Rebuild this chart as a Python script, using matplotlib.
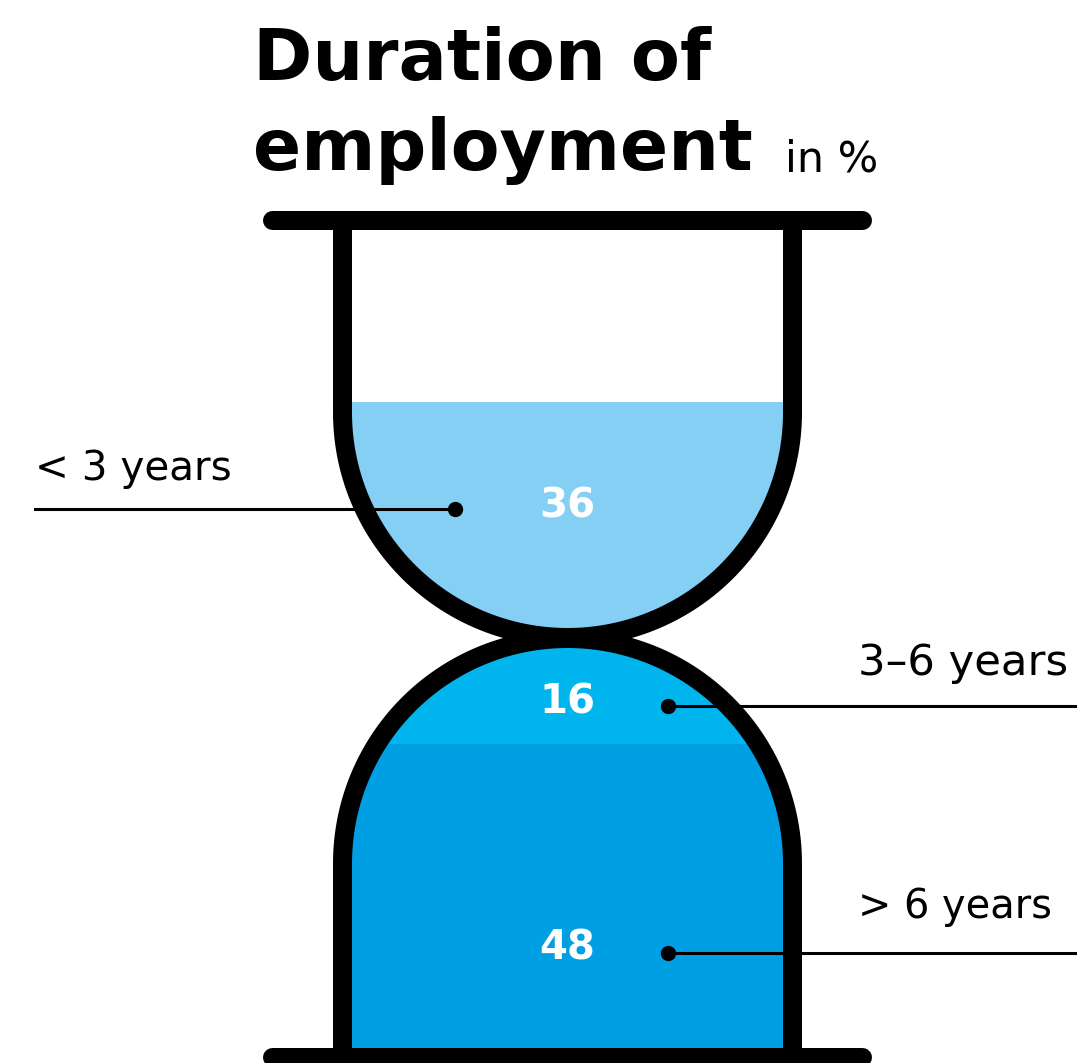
import numpy as np
import matplotlib
matplotlib.use("Agg")
import matplotlib.pyplot as plt
from matplotlib.patches import Polygon, Rectangle

# data
categories = ["< 3 years", "3\u20136 years", "> 6 years"]
values = [36, 16, 48]
colors = ["#85cff4", "#00b4ee", "#009fe3"]

plt.rcParams["font.family"] = ["DejaVu Sans"]

W, H = 1077, 1063
fig = plt.figure(figsize=(W / 100, H / 100), dpi=100)
ax = fig.add_axes([0, 0, 1, 1])
ax.set_xlim(0, W)
ax.set_ylim(H, 0)
ax.axis("off")
rend = fig.canvas.get_renderer()


def fit_text(x0, x1, y, s, ha="left", **kw):
    # size the text so that it spans x0..x1 pixels
    t = ax.text(x0 if ha == "left" else x1, y, s, ha=ha, va="baseline", fontsize=30, **kw)
    w = t.get_window_extent(rend).width
    t.set_fontsize(30 * (x1 - x0) / w)
    return t


LW = 19 * 0.72          # outline width in pt
xl, xr = 342.5, 792.5   # wall centres
cx, r = (xl + xr) / 2, (xr - xl) / 2
top_y, bot_y = 220, 1057
up_c, lo_c = 412.5, 863.5   # arc centres

t = np.linspace(np.pi, 0, 120)
up = [(xl, top_y)] + list(zip(cx + r * np.cos(t), up_c + r * np.sin(t))) + [(xr, top_y)]
lo = [(xl, bot_y)] + list(zip(cx + r * np.cos(t), lo_c - r * np.sin(t))) + [(xr, bot_y)]

# fills
up_patch = Polygon(up, closed=True, fc="none", ec="none")
ax.add_patch(up_patch)
f1 = Rectangle((0, 402), W, 400, fc=colors[0], ec="none")
ax.add_patch(f1)
f1.set_clip_path(up_patch)

lo_patch = Polygon(lo, closed=True, fc=colors[2], ec="none")
ax.add_patch(lo_patch)
f2 = Rectangle((0, 600), W, 744 - 600, fc=colors[1], ec="none")
ax.add_patch(f2)
f2.set_clip_path(lo_patch)

# outlines
for pts in (up, lo):
    xs, ys = zip(*pts)
    ax.plot(xs, ys, color="black", lw=LW, solid_joinstyle="miter", solid_capstyle="butt")
for y in (top_y, bot_y):
    ax.plot([272, 862], [y, y], color="black", lw=LW, solid_capstyle="round")

# values inside
val_y = [507, 703, 948]
for v, y in zip(values, val_y):
    ax.text(cx, y, str(v), color="white", fontsize=29, fontweight="bold",
            ha="center", va="center")

# leaders + labels
ax.plot([35, 455], [509, 509], color="black", lw=2.2)
ax.plot(455, 509, "o", color="black", ms=10)
fit_text(35, 232, 480, categories[0])

ax.plot([668, W], [706, 706], color="black", lw=2.2)
ax.plot(668, 706, "o", color="black", ms=10)
fit_text(858, 1068, 675, categories[1], ha="right")

ax.plot([668, W], [953, 953], color="black", lw=2.2)
ax.plot(668, 953, "o", color="black", ms=10)
fit_text(858, 1052, 918, categories[2], ha="right")

# title
fit_text(253, 710, 80, "Duration of", fontweight="bold")
fit_text(253, 752, 170, "employment", fontweight="bold")
fit_text(785, 878, 172, "in %")

fig.savefig("out.png", dpi=100)
